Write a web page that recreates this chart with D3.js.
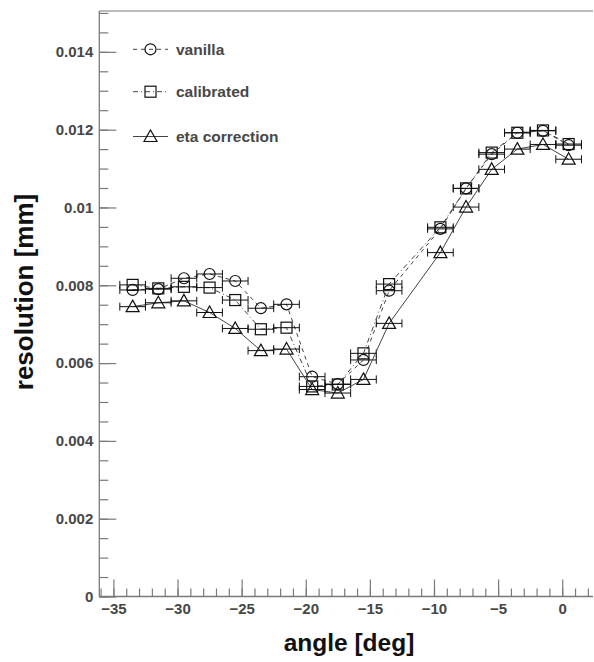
<!DOCTYPE html>
<html>
<head>
<meta charset="utf-8">
<script src="https://cdn.jsdelivr.net/npm/d3@7"></script>
<style>
  html, body { margin: 0; padding: 0; background: #fff; }
  svg text { font-family: "Liberation Sans", Arial, Helvetica, sans-serif; font-weight: bold; }
</style>
</head>
<body>
<svg id="chart" width="594" height="662"></svg>
<script>
// ---- data ----
const angles = [-33.5,-31.5,-29.5,-27.5,-25.5,-23.5,-21.5,-19.5,-17.5,-15.5,-13.5,-9.5,-7.5,-5.5,-3.5,-1.5,0.5];
const angleErr = 1.0;
const vanilla    = [0.00788,0.00790,0.00818,0.00829,0.00811,0.00741,0.00751,0.00565,0.00546,0.00608,0.00786,0.00945,0.01049,0.01137,0.01192,0.01197,0.01160];
const calibrated = [0.00801,0.00792,0.00796,0.00794,0.00762,0.00687,0.00691,0.00540,0.00545,0.00625,0.00803,0.00949,0.01049,0.01141,0.01192,0.01198,0.01163];
const etaCorr    = [0.00745,0.00755,0.00760,0.00730,0.00689,0.00632,0.00636,0.00532,0.00523,0.00558,0.00702,0.00884,0.01001,0.01098,0.01150,0.01162,0.01124];
const seriesNames = ["vanilla", "calibrated", "eta correction"];
const xTicks = [-35,-30,-25,-20,-15,-10,-5,0];
const yTicks = [0,0.002,0.004,0.006,0.008,0.010,0.012,0.014];
const xTitle = "angle [deg]";
const yTitle = "resolution [mm]";

// ---- layout ----
const svg = d3.select("#chart");
const L = 99.3, R = 593, T = 11, B = 596.5;
const x = d3.scaleLinear().domain([-36.1, 2.4]).range([L, R]);
const y = d3.scaleLinear().domain([0, 0.01505]).range([B, T]);
const axisColor = "#7a7a7a";
const labelColor = "#474747";

// frame top line
svg.append("line").attr("x1", L).attr("x2", R).attr("y1", T).attr("y2", T)
  .attr("stroke", axisColor).attr("stroke-width", 1.2);

// minor ticks
const xMinor = d3.range(-36, 3, 1).filter(v => v >= -36.1 && v <= 2.4);
svg.append("g").attr("transform", `translate(0,${B})`)
  .call(d3.axisBottom(x).tickValues(xMinor).tickSize(-8).tickFormat(""))
  .call(g => g.select(".domain").remove())
  .call(g => g.selectAll("line").attr("stroke", axisColor).attr("stroke-width", 1.2));
const yMinor = d3.range(0, 0.0151, 0.0005);
svg.append("g").attr("transform", `translate(${L},0)`)
  .call(d3.axisLeft(y).tickValues(yMinor).tickSize(-9).tickFormat(""))
  .call(g => g.select(".domain").remove())
  .call(g => g.selectAll("line").attr("stroke", axisColor).attr("stroke-width", 1.2));

// major axes
const xAxis = svg.append("g").attr("transform", `translate(0,${B})`)
  .call(d3.axisBottom(x).tickValues(xTicks).tickSize(-17).tickSizeOuter(0).tickPadding(7).tickFormat(d3.format("d")));
xAxis.select(".domain").attr("stroke", axisColor).attr("stroke-width", 1.3).attr("d", `M${L},0H${R}`);
xAxis.selectAll("line").attr("stroke", axisColor).attr("stroke-width", 1.2);
xAxis.selectAll("text").attr("fill", labelColor).style("font-size", "15px");

const yAxis = svg.append("g").attr("transform", `translate(${L},0)`)
  .call(d3.axisLeft(y).tickValues(yTicks).tickSize(-17).tickSizeOuter(0).tickPadding(6)
    .tickFormat(d => d === 0 ? "0" : d3.format(".3~f")(d)));
yAxis.select(".domain").attr("stroke", axisColor).attr("stroke-width", 1.3).attr("d", `M0,${T}V${B}`);
yAxis.selectAll("line").attr("stroke", axisColor).attr("stroke-width", 1.2);
yAxis.selectAll("text").attr("fill", labelColor).style("font-size", "15px");

// titles
svg.append("text").attr("x", 349).attr("y", 651).attr("text-anchor", "middle")
  .style("font-size", "24.5px").attr("fill", "#111").text(xTitle);
svg.append("text").attr("transform", "translate(33,292) rotate(-90)").attr("text-anchor", "middle")
  .style("font-size", "26px").attr("fill", "#111").text(yTitle);

// ---- series ----
const series = [
  { name: seriesNames[0], vals: vanilla, dash: "4,4", marker: "circle" },
  { name: seriesNames[1], vals: calibrated, dash: "5,3,1,3", marker: "square" },
  { name: seriesNames[2], vals: etaCorr, dash: null, marker: "triangle" }
];
const lineColor = "#444";
const markerColor = "#111";

function drawMarker(g, type, cx, cy) {
  if (type === "circle") {
    g.append("circle").attr("cx", cx).attr("cy", cy).attr("r", 5.5)
      .attr("fill", "none").attr("stroke", markerColor).attr("stroke-width", 1.2);
  } else if (type === "square") {
    g.append("rect").attr("x", cx - 5.5).attr("y", cy - 5.5).attr("width", 11).attr("height", 11)
      .attr("fill", "none").attr("stroke", markerColor).attr("stroke-width", 1.2);
  } else {
    g.append("path").attr("d", `M${cx},${cy - 6.5}L${cx + 6.5},${cy + 5}L${cx - 6.5},${cy + 5}Z`)
      .attr("fill", "none").attr("stroke", markerColor).attr("stroke-width", 1.2);
  }
}

const line = d3.line().x(d => x(d[0])).y(d => y(d[1]));
series.forEach(s => {
  const pts = angles.map((a, i) => [a, s.vals[i]]);
  const g = svg.append("g");
  g.append("path").attr("d", line(pts)).attr("fill", "none").attr("stroke", lineColor)
    .attr("stroke-width", 1).attr("stroke-dasharray", s.dash);
  pts.forEach(p => {
    const cx = x(p[0]), cy = y(p[1]);
    const x0 = x(p[0] - angleErr), x1 = x(p[0] + angleErr);
    g.append("path").attr("d", `M${x0},${cy}H${x1}M${x0},${cy - 4}V${cy + 4}M${x1},${cy - 4}V${cy + 4}`)
      .attr("fill", "none").attr("stroke", markerColor).attr("stroke-width", 1);
    drawMarker(g, s.marker, cx, cy);
  });
});

// ---- legend ----
const legY = [49.3, 91.7, 136.5];
series.forEach((s, i) => {
  const g = svg.append("g");
  g.append("line").attr("x1", 133).attr("x2", 168).attr("y1", legY[i]).attr("y2", legY[i])
    .attr("stroke", lineColor).attr("stroke-width", 1).attr("stroke-dasharray", s.dash);
  drawMarker(g, s.marker, 150.5, legY[i]);
  g.append("text").attr("x", 176).attr("y", legY[i] + 5.5).style("font-size", "15.5px")
    .attr("fill", labelColor).text(s.name);
});
</script>
</body>
</html>
